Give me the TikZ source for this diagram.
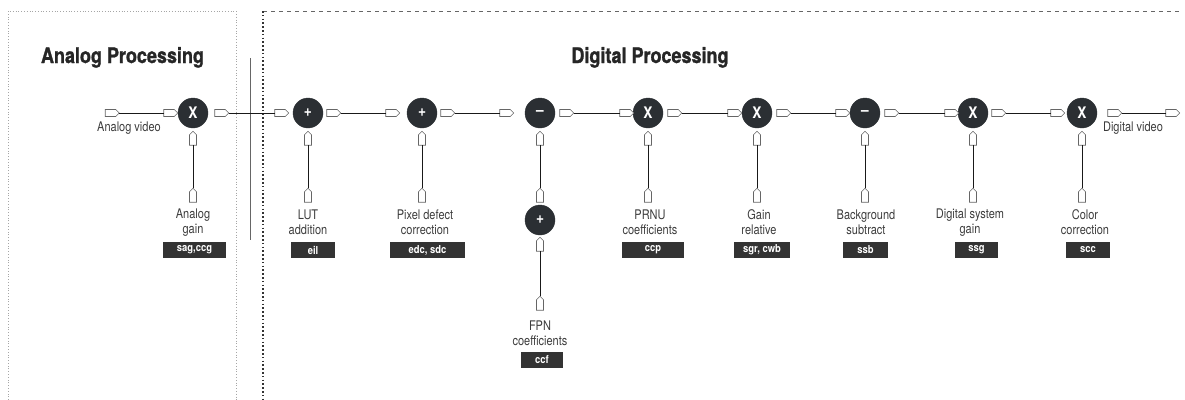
\documentclass[tikz,border=0pt]{standalone}
\usepackage{fontspec}
\setmainfont{TeX Gyre Heros}
\newfontfamily\condfont{TeX Gyre Heros}[FakeStretch=0.83]
\newfontfamily\titlefont{TeX Gyre Heros Bold}[FakeStretch=0.86]
\newfontfamily\headfont{TeX Gyre Heros Bold}[FakeStretch=0.84, FakeBold=1.2]
\usetikzlibrary{shapes.symbols}
\definecolor{dk}{HTML}{2B2F33}
\definecolor{bx}{HTML}{333333}
\definecolor{tx}{HTML}{3C3C3C}
\definecolor{pt}{HTML}{666666}
\begin{document}
\begin{tikzpicture}[x=1bp,y=-1bp,
 port/.style={shape=signal, signal to=east, draw=pt, fill=white, line width=0.6bp, minimum width=14bp, minimum height=7bp, inner sep=0pt, outer sep=0pt},
 vport/.style={port, rotate=90},
 op/.style={circle, fill=dk, draw=dk, minimum size=30bp, inner sep=0pt, text=white, font=\fontsize{16}{16}\selectfont\titlefont},
 lbl/.style={align=center, text=tx, font=\fontsize{13.3}{15}\selectfont\condfont, inner sep=0pt},
 tag/.style={fill=bx, text=white, minimum height=16bp, inner sep=0pt, font=\fontsize{11}{11}\selectfont\titlefont},
 wire/.style={line width=0.9bp, draw=black!90},
 title/.style={font=\fontsize{21.5}{21.5}\selectfont\headfont, text=black!85, anchor=base}
]
\useasboundingbox (0,0) rectangle (1185,399);
% frames
\draw[gray!70, line width=0.8bp, dotted] (8,400) -- (8,11) -- (236,11) -- (236,400);
\draw[black!60, line width=0.8bp, dash pattern=on 4bp off 4bp] (263,11) -- (1183,11);
\draw[black!80, line width=1.6bp, dash pattern=on 1.6bp off 2.2bp] (263,11) -- (263,400);
\draw[gray!80!black, line width=0.8bp] (250,58) -- (250,240);
% titles
\node[title] (ta) at (122.5,63) {Analog Processing};
\node[title] (td) at (650,63) {Digital Processing};
% operators
\node[op] (c0) at (193,113) {X};
\node[op] (c1) at (308,113) {+};
\node[op] (c2) at (422,113) {+};
\node[op] (c3) at (540,113) {–};
\node[op] (c4) at (648,113) {X};
\node[op] (c5) at (757,113) {X};
\node[op] (c6) at (865,113) {–};
\node[op] (c7) at (973,113) {X};
\node[op] (c8) at (1082,113) {X};
\node[op] (cf) at (540,220) {+};
% horizontal ports
\node[port] (av) at (110.5,113) {};
\node[port] (i0) at (169,113) {};
\node[port] (o0) at (220,113) {};
\node[port] (i1) at (280,113) {};
\node[port] (o1) at (332,113) {};
\node[port] (i2) at (391,113) {};
\node[port] (o2) at (446,113) {};
\node[port] (i3) at (505,113) {};
\node[port] (o3) at (565,113) {};
\node[port] (i4) at (625,113) {};
\node[port] (o4) at (673,113) {};
\node[port] (i5) at (733,113) {};
\node[port] (o5) at (782,113) {};
\node[port] (i6) at (841,113) {};
\node[port] (o6) at (890,113) {};
\node[port] (i7) at (950,113) {};
\node[port] (o7) at (997,113) {};
\node[port] (i8) at (1056,113) {};
\node[port] (o8) at (1113,113) {};
\node[port] (dv) at (1171,113) {};
% horizontal wires
\draw[wire] (av.east) -- (i0.west);
\draw[wire] (o0.east) -- (i1.west);
\draw[wire] (o1.east) -- (i2.west);
\draw[wire] (o2.east) -- (i3.west);
\draw[wire] (o3.east) -- (i4.west);
\draw[wire] (o4.east) -- (i5.west);
\draw[wire] (o5.east) -- (i6.west);
\draw[wire] (o6.east) -- (i7.west);
\draw[wire] (o7.east) -- (i8.west);
\draw[wire] (o8.east) -- (dv.west);
% vertical ports and wires
\foreach \n/\x in {0/193,1/308,2/422,3/540,4/648,5/757,6/865,7/973,8/1082}{
  \node[vport] (u\n) at (\x,140) {};
}
\foreach \n/\x in {0/193,1/308,2/422,4/648,5/757,6/865,7/973,8/1082}{
  \node[vport] (b\n) at (\x,197) {};
  \draw[wire] (b\n.east) -- (u\n.west);
}
\node[vport] (b3) at (540,197) {};
\draw[wire] (b3.east) -- (u3.west);
\node[vport] (uf) at (540,246) {};
\node[vport] (bf) at (540,305) {};
\draw[wire] (bf.east) -- (uf.west);
% labels
\node[lbl] (lav) at (129,128) {Analog video};
\node[lbl] (ldv) at (1133,128) {Digital video};
\node[lbl] (l0) at (193,222.5) {Analog\\gain};
\node[lbl] (l1) at (308,222.5) {LUT\\addition};
\node[lbl] (l2) at (425,222.5) {Pixel defect\\correction};
\node[lbl] (l4) at (650,222.5) {PRNU\\coefficients};
\node[lbl] (l5) at (759,222.5) {Gain\\relative};
\node[lbl] (l6) at (866,222.5) {Background\\subtract};
\node[lbl] (l7) at (970,222.5) {Digital system\\gain};
\node[lbl] (l8) at (1085,222.5) {Color\\correction};
\node[lbl] (lf) at (540,333.5) {FPN\\coefficients};
% tags
\node[tag, minimum width=63bp] (t0) at (194.5,250) {sag,ccg};
\node[tag, minimum width=44bp] (t1) at (313,250) {eil};
\node[tag, minimum width=75bp] (t2) at (427.5,250) {edc, sdc};
\node[tag, minimum width=62bp] (t4) at (653,250) {ccp};
\node[tag, minimum width=56bp] (t5) at (762,250) {sgr, cwb};
\node[tag, minimum width=45bp] (t6) at (865.5,250) {ssb};
\node[tag, minimum width=43bp] (t7) at (976.5,250) {ssg};
\node[tag, minimum width=44bp] (t8) at (1088,250) {scc};
\node[tag, minimum width=42bp] (tf) at (542,359.5) {ccf};
\end{tikzpicture}
\end{document}
